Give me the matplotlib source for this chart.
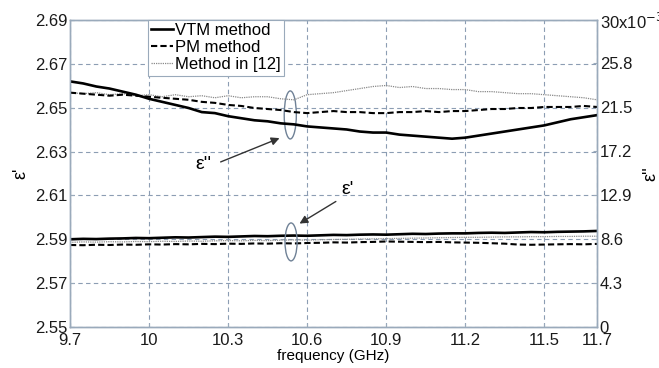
"""Permittivity vs frequency: eps' (left axis) and eps'' (right axis)
for the VTM method, the PM method and the method of [12]."""
import matplotlib
matplotlib.use("Agg")

import matplotlib.pyplot as plt
import numpy as np
from matplotlib.patches import Ellipse

plt.rcParams["font.family"] = ["Liberation Sans", "DejaVu Sans"]

GRID = "#8c9db3"
EDGE = "#9aaabb"

freq = np.round(np.arange(41) * 0.05 + 9.7, 2)

# eps'' in units of 1e-3 (right axis)
epp_vtm = [24.0, 23.8, 23.5, 23.3, 23.0, 22.7, 22.3, 22.0, 21.7, 21.4,
           21.0, 20.9, 20.6, 20.4, 20.2, 20.1, 19.9, 19.8, 19.6, 19.5,
           19.4, 19.3, 19.1, 19.0, 19.0, 18.8, 18.7, 18.6, 18.5, 18.4,
           18.5, 18.7, 18.9, 19.1, 19.3, 19.5, 19.7, 20.0, 20.3, 20.5, 20.7]
epp_pm = [22.9, 22.8, 22.7, 22.6, 22.7, 22.6, 22.5, 22.4, 22.3, 22.2,
          22.0, 21.9, 21.7, 21.6, 21.4, 21.3, 21.2, 21.0, 20.9, 21.0,
          21.1, 21.0, 21.0, 20.9, 20.9, 21.0, 21.0, 21.1, 21.0, 21.1,
          21.1, 21.2, 21.3, 21.3, 21.4, 21.4, 21.5, 21.5, 21.5, 21.6, 21.5]
epp_m12 = [22.9, 22.8, 22.9, 22.7, 22.8, 22.6, 22.7, 22.5, 22.7, 22.5,
           22.6, 22.4, 22.6, 22.4, 22.5, 22.5, 22.3, 22.2, 22.7, 22.8,
           22.9, 23.1, 23.3, 23.5, 23.6, 23.4, 23.5, 23.3, 23.3, 23.2,
           23.2, 23.0, 23.0, 22.9, 22.8, 22.8, 22.7, 22.6, 22.5, 22.4, 22.2]

# eps' (left axis)
ep_vtm = [2.5900, 2.5902, 2.5901, 2.5903, 2.5904, 2.5906, 2.5905, 2.5907, 2.5909, 2.5908,
          2.5910, 2.5912, 2.5911, 2.5913, 2.5915, 2.5914, 2.5916, 2.5917, 2.5916, 2.5918,
          2.5920, 2.5919, 2.5921, 2.5922, 2.5921, 2.5923, 2.5925, 2.5924, 2.5926, 2.5927,
          2.5927, 2.5929, 2.5930, 2.5929, 2.5931, 2.5933, 2.5932, 2.5934, 2.5935, 2.5936, 2.5938]
ep_pm = [2.5874, 2.5873, 2.5875, 2.5874, 2.5876, 2.5875, 2.5877, 2.5876, 2.5878, 2.5877,
         2.5879, 2.5878, 2.5880, 2.5879, 2.5881, 2.5880, 2.5882, 2.5881, 2.5883, 2.5884,
         2.5886, 2.5885, 2.5887, 2.5888, 2.5890, 2.5889, 2.5888, 2.5887, 2.5888, 2.5886,
         2.5885, 2.5884, 2.5882, 2.5880, 2.5876, 2.5875, 2.5876, 2.5877, 2.5878, 2.5877, 2.5879]
ep_m12 = [2.5886, 2.5888, 2.5887, 2.5889, 2.5888, 2.5890, 2.5889, 2.5891, 2.5890, 2.5892,
          2.5891, 2.5893, 2.5894, 2.5893, 2.5895, 2.5894, 2.5896, 2.5897, 2.5896, 2.5898,
          2.5899, 2.5900, 2.5901, 2.5902, 2.5903, 2.5904, 2.5905, 2.5906, 2.5907, 2.5908,
          2.5909, 2.5909, 2.5910, 2.5911, 2.5911, 2.5912, 2.5912, 2.5913, 2.5913, 2.5914, 2.5914]

xticks = [9.7, 10, 10.3, 10.6, 10.9, 11.2, 11.5, 11.7]
xtick_labels = ["9.7", "10", "10.3", "10.6", "10.9", "11.2", "11.5", "11.7"]
yticks_l = [2.55, 2.57, 2.59, 2.61, 2.63, 2.65, 2.67, 2.69]
yticks_r = [0, 4.3, 8.6, 12.9, 17.2, 21.5, 25.8, 30]
ytick_r_labels = ["0", "4.3", "8.6", "12.9", "17.2", "21.5", "25.8", "30x10$^{-3}$"]

fig = plt.figure(figsize=(6.59, 3.68), dpi=100)
ax = fig.add_axes([0.1062, 0.1114, 0.7997, 0.8343])
ax2 = ax.twinx()

styles = dict(
    vtm=dict(color="black", lw=1.9, ls="-"),
    pm=dict(color="black", lw=1.5, ls=(0, (3, 1.5))),
    m12=dict(color="#8a8a8a", lw=0.9, ls=(0, (1, 0.8))),
)

ax.plot(freq, ep_m12, **styles["m12"])
ax.plot(freq, ep_pm, **styles["pm"])
ax.plot(freq, ep_vtm, **styles["vtm"])
ax2.plot(freq, epp_m12, label="Method in [12]", **styles["m12"])
ax2.plot(freq, epp_pm, label="PM method", **styles["pm"])
ax2.plot(freq, epp_vtm, label="VTM method", **styles["vtm"])

ax.set_xlim(9.7, 11.7)
ax.set_ylim(2.55, 2.69)
ax2.set_ylim(0, 30)
ax.set_xticks(xticks)
ax.set_xticklabels(xtick_labels)
ax.set_yticks(yticks_l)
ax.set_yticklabels([f"{v:.2f}" for v in yticks_l])
ax2.set_yticks(yticks_r)
ax2.set_yticklabels(ytick_r_labels)

ax.grid(True, color=GRID, ls=(0, (4, 3)), lw=0.8)
for a in (ax, ax2):
    a.tick_params(direction="in", length=3, colors=EDGE, labelcolor="#1a1a1a",
                  labelsize=12, pad=2)
    for s in a.spines.values():
        s.set_color(EDGE)
        s.set_linewidth(1.0)
ax.tick_params(axis="x", pad=4)

ax.set_xlabel("frequency (GHz)", fontsize=11, labelpad=1)
ax.set_ylabel("ε'", fontsize=13, rotation=90, labelpad=4)
ax2.set_ylabel("ε''", fontsize=13, rotation=90)
ax2.yaxis.set_label_coords(1.087, 0.5)

# legend in the order shown on the chart
h, l = ax2.get_legend_handles_labels()
leg = ax2.legend(h[::-1], l[::-1], loc="upper left", bbox_to_anchor=(0.148, 1.0),
                 borderaxespad=0, fontsize=12, handlelength=1.3, handletextpad=0.15,
                 labelspacing=0.12, borderpad=0.2, fancybox=False, framealpha=1)
leg.get_frame().set_edgecolor(EDGE)
leg.get_frame().set_linewidth(0.8)

# annotations (left axis data coordinates)
ax.add_patch(Ellipse((10.536, 2.6467), 0.046, 0.0219, fill=False,
                     edgecolor="#6f8196", lw=1.0, zorder=5))
ax.add_patch(Ellipse((10.539, 2.5888), 0.046, 0.0173, fill=False,
                     edgecolor="#6f8196", lw=1.0, zorder=5))
arrow = dict(arrowstyle="-|>", color="#333333", lw=1.0, mutation_scale=12)
ax.annotate("", xy=(10.505, 2.6366), xytext=(10.262, 2.6248), arrowprops=arrow)
ax.annotate("", xy=(10.562, 2.5965), xytext=(10.718, 2.6079), arrowprops=arrow)
ax.text(10.205, 2.6239, "ε''", fontsize=14, ha="center", va="center")
ax.text(10.752, 2.6125, "ε'", fontsize=14, ha="center", va="center")

fig.savefig("out.png", dpi=100)
